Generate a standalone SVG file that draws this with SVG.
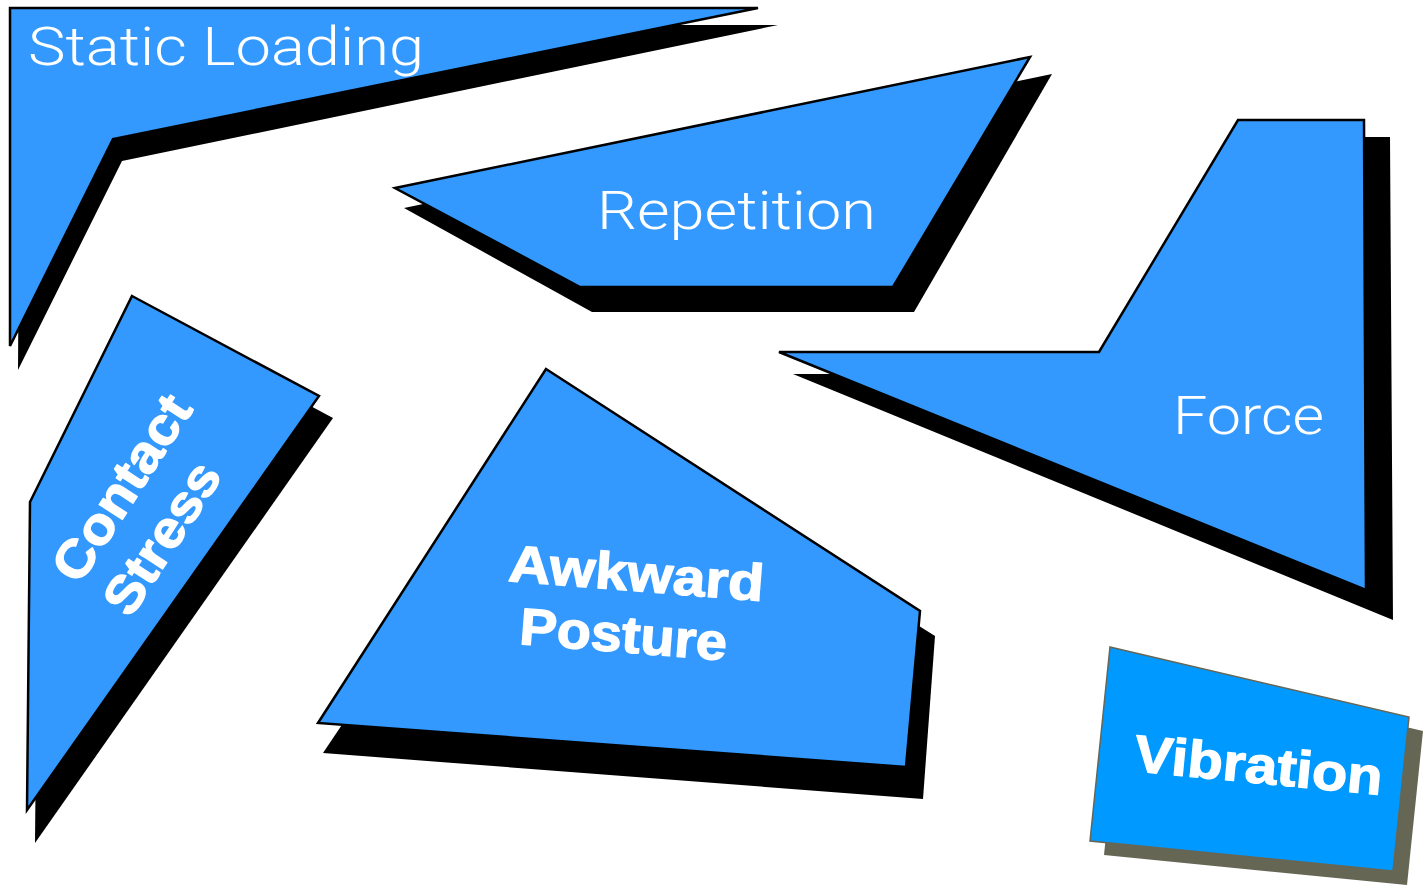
<svg xmlns="http://www.w3.org/2000/svg" width="1423" height="888" viewBox="0 0 1423 888">
<style>
.bg{fill:#ffffff}
.sh{fill:#000000}
.pc{fill:#3399FF;stroke:#000000;stroke-width:2.5;stroke-linejoin:miter}
.vsh{fill:#666655}
.vpc{fill:#0099FF;stroke:#666655;stroke-width:1.5}
.thin{font-family:"Roboto","Liberation Sans",Arial,sans-serif;font-weight:300;font-size:53px;fill:#ffffff}
.bold{font-family:"Liberation Sans",Arial,sans-serif;font-weight:bold;font-size:52px;fill:#ffffff;stroke:#ffffff;stroke-width:1.3;stroke-linejoin:round}
</style>
<rect class="bg" x="0" y="0" width="1423" height="888"/>
<g id="static-loading">
<polygon class="sh" points="20,25 778,25 122,161 18,370"/>
<polygon class="pc" points="10,8 758,8 113,139 10,346"/>
<text class="thin" x="28" y="65" textLength="396" lengthAdjust="spacingAndGlyphs">Static Loading</text>
</g>
<g id="repetition">
<polygon class="sh" points="404,208 1052,74 914,312 592,312"/>
<polygon class="pc" points="395,188 1030,57 893,287 580,287"/>
<text class="thin" x="597" y="229" textLength="279" lengthAdjust="spacingAndGlyphs">Repetition</text>
</g>
<g id="force">
<polygon class="sh" points="793,374 1120,374 1260,137 1390,137 1393,620"/>
<polygon class="pc" points="1238,120 1364,120 1366,590 779,352 1099,352"/>
<text class="thin" x="1173" y="434" textLength="151" lengthAdjust="spacingAndGlyphs">Force</text>
</g>
<g id="contact-stress">
<polygon class="sh" points="146,318 333,418 35,843 38,524"/>
<polygon class="pc" points="132,296 319,396 27,810 30,502"/>
<g transform="translate(79,586) rotate(-57)">
<text class="bold" x="0" y="0" textLength="211" lengthAdjust="spacingAndGlyphs">Contact</text>
<text class="bold" x="0" y="61" textLength="171" lengthAdjust="spacingAndGlyphs">Stress</text>
</g>
</g>
<g id="awkward-posture">
<polygon class="sh" points="560,400 935,636 923,799 323,753"/>
<polygon class="pc" points="546,369 920,611 906,767 318,723"/>
<g transform="translate(635,591) rotate(4.5)">
<text class="bold" x="0" y="0" text-anchor="middle" textLength="256" lengthAdjust="spacingAndGlyphs">Awkward</text>
<text class="bold" x="-8" y="62" text-anchor="middle" textLength="208" lengthAdjust="spacingAndGlyphs">Posture</text>
</g>
</g>
<g id="vibration">
<polygon class="vsh" points="1124,661 1423,731 1407,885 1104,855"/>
<polygon class="vpc" points="1110,647 1409,717 1393,871 1090,841"/>
<g transform="translate(1257,783) rotate(5.5)">
<text class="bold" x="0" y="0" text-anchor="middle" font-size="54" textLength="249" lengthAdjust="spacingAndGlyphs">Vibration</text>
</g>
</g>
<g id="connectors"/>
</svg>
